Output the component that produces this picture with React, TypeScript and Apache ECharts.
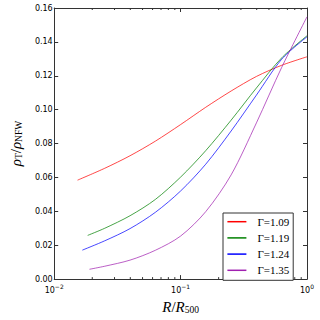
import { useEffect, useRef } from 'react';
import * as echarts from 'echarts';

const seriesNames = ['Γ=1.09', 'Γ=1.19', 'Γ=1.24', 'Γ=1.35'];
const seriesColors = ['#ff0000', '#008000', '#0000ff', '#a020b0'];

const redX = [0.0153, 0.0251, 0.0398, 0.0631, 0.1, 0.158, 0.251, 0.398, 0.631, 1.0];
const redY = [0.0584, 0.0654, 0.0728, 0.0814, 0.0912, 0.1014, 0.1110, 0.1196, 0.1262, 0.1312];

const greenX = [0.0184, 0.0251, 0.0398, 0.0631, 0.1, 0.158, 0.251, 0.398, 0.631, 1.0];
const greenY = [0.0258, 0.0300, 0.0374, 0.0470, 0.0602, 0.0758, 0.0938, 0.1128, 0.1306, 0.1436];

const blueX = [0.0167, 0.0251, 0.0398, 0.0631, 0.1, 0.158, 0.251, 0.398, 0.631, 1.0];
const blueY = [0.0171, 0.0226, 0.0298, 0.0394, 0.0520, 0.0678, 0.0874, 0.1086, 0.1298, 0.1430];

const purpleX = [0.019, 0.0251, 0.0398, 0.0631, 0.1, 0.158, 0.251, 0.398, 0.631, 1.0];
const purpleY = [0.0058, 0.0076, 0.0112, 0.0170, 0.0254, 0.0398, 0.0615, 0.0922, 0.1250, 0.1548];

const yTicks = { min: 0, max: 0.16, interval: 0.02 };
const xRange = { min: 0.01, max: 1 };
const minorTickValues = [0.02, 0.03, 0.04, 0.05, 0.06, 0.07, 0.08, 0.09, 0.2, 0.3, 0.4, 0.5, 0.6, 0.7, 0.8, 0.9];

const allX = [redX, greenX, blueX, purpleX];
const allY = [redY, greenY, blueY, purpleY];

const AXIS = '#333333';

export default function App() {
  const ref = useRef<HTMLDivElement>(null);
  useEffect(() => {
    const chart = echarts.init(ref.current!, null, { renderer: 'svg' });
    const tickStyle = { show: true, inside: true, length: 4, lineStyle: { color: AXIS, width: 1 } };
    const lineStyle = { show: true, onZero: false, lineStyle: { color: AXIS, width: 1 } };
    const nameRich = {
      i: { fontFamily: 'Liberation Serif', fontStyle: 'italic', fontSize: 15, lineHeight: 17, color: '#000' },
      n: { fontFamily: 'Liberation Serif', fontSize: 15, lineHeight: 17, color: '#000' },
      s: { fontFamily: 'Liberation Serif', fontSize: 9.5, lineHeight: 9, color: '#000', verticalAlign: 'bottom' },
    };
    chart.setOption({
      animation: false,
      backgroundColor: '#ffffff',
      grid: { left: 40, right: 13, top: 8, bottom: 34, containLabel: false },
      legend: {
        data: seriesNames,
        orient: 'vertical',
        left: 223,
        top: 213,
        icon: 'rect',
        itemWidth: 19,
        itemHeight: 1.5,
        itemGap: 4.2,
        padding: [2.7, 4, 4, 4.4],
        borderColor: AXIS,
        borderWidth: 1,
        backgroundColor: '#ffffff',
        textStyle: {
          fontFamily: 'Liberation Serif',
          fontSize: 11,
          lineHeight: 12,
          color: '#000',
          padding: [0, 0, 0, 6],
        },
      },
      xAxis: [
        {
          type: 'log',
          logBase: 10,
          min: xRange.min,
          max: xRange.max,
          interval: 1,
          position: 'bottom',
          axisLine: lineStyle,
          axisTick: tickStyle,
          splitLine: { show: false },
          axisLabel: {
            margin: 4,
            formatter: (v: number) => {
              const e = Math.round(Math.log10(v));
              return `{b|10}{s|${e < 0 ? '−' + Math.abs(e) : e}}`;
            },
            rich: {
              b: { fontFamily: 'DejaVu Sans', fontSize: 8, color: '#000', lineHeight: 11, verticalAlign: 'bottom' },
              s: { fontFamily: 'DejaVu Sans', fontSize: 6, color: '#000', lineHeight: 7, verticalAlign: 'top' },
            },
          },
          name: '{i|R}{n|/}{i|R}{s|500}',
          nameLocation: 'middle',
          nameGap: 9,
          nameTextStyle: { rich: nameRich },
        },
        {
          type: 'log',
          logBase: 10,
          min: xRange.min,
          max: xRange.max,
          interval: 1,
          position: 'top',
          axisLine: lineStyle,
          axisTick: tickStyle,
          axisLabel: { show: false },
          splitLine: { show: false },
        },
      ],
      yAxis: [
        {
          type: 'value',
          min: yTicks.min,
          max: yTicks.max,
          interval: yTicks.interval,
          position: 'left',
          axisLine: lineStyle,
          axisTick: tickStyle,
          splitLine: { show: false },
          axisLabel: {
            margin: 1.5,
            fontFamily: 'DejaVu Sans',
            fontSize: 8,
            color: '#000',
            formatter: (v: number) => v.toFixed(2),
          },
          name: '{i|ρ}{s|T}{n|/}{i|ρ}{s|NFW}',
          nameLocation: 'middle',
          nameRotate: 90,
          nameGap: 16,
          nameTextStyle: { rich: nameRich },
        },
        {
          type: 'value',
          min: yTicks.min,
          max: yTicks.max,
          interval: yTicks.interval,
          position: 'right',
          axisLine: lineStyle,
          axisTick: tickStyle,
          axisLabel: { show: false },
          splitLine: { show: false },
        },
      ],
      series: seriesNames.map((name, i) => ({
        name,
        type: 'line',
        xAxisIndex: 0,
        yAxisIndex: 0,
        data: allX[i].map((x, j) => [x, allY[i][j]]),
        smooth: 0.3,
        symbol: 'none',
        color: seriesColors[i],
        lineStyle: { width: 0.9, color: seriesColors[i], opacity: 0.8 },
      })),
    });

    const yBottom = chart.convertToPixel({ yAxisIndex: 0 }, yTicks.min) as number;
    const yTop = chart.convertToPixel({ yAxisIndex: 0 }, yTicks.max) as number;
    const minor: any[] = [];
    minorTickValues.forEach((v) => {
      const x = chart.convertToPixel({ xAxisIndex: 0 }, v) as number;
      minor.push({ type: 'line', silent: true, shape: { x1: x, y1: yBottom, x2: x, y2: yBottom - 2 }, style: { stroke: AXIS, lineWidth: 1 } });
      minor.push({ type: 'line', silent: true, shape: { x1: x, y1: yTop, x2: x, y2: yTop + 2 }, style: { stroke: AXIS, lineWidth: 1 } });
    });
    chart.setOption({ graphic: minor });

    return () => chart.dispose();
  }, []);
  return <div ref={ref} style={{ position: 'fixed', left: 0, top: 0, width: 320, height: 320 }} />;
}
